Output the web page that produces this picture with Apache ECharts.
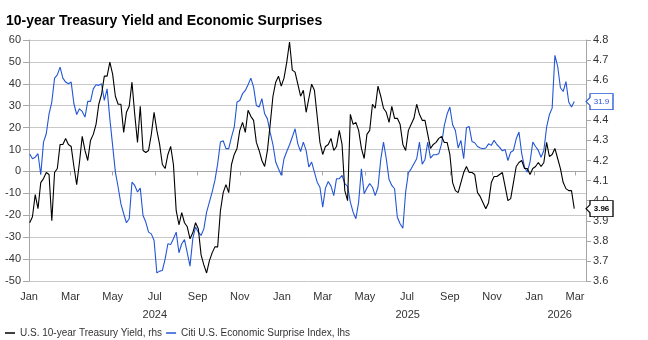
<!DOCTYPE html>
<html>
<head>
<meta charset="utf-8">
<script src="https://cdn.jsdelivr.net/npm/echarts@6/dist/echarts.min.js"></script>
<style>
  html, body { margin: 0; padding: 0; background: #fff; }
  #chart { width: 648px; height: 340px; }
</style>
</head>
<body>
<div id="chart"></div>
<script>
// Observations: one reading every 4 calendar days starting 2 Jan 2024
const FIRST_OBS = [2024, 0, 2];
const OBS_STEP_DAYS = 4;

// U.S. 10-year Treasury yield, % (right axis)
const yieldValues = [
  3.89, 3.92, 4.03, 3.96, 4.09, 4.11, 4.14, 4.13, 3.90, 4.14,
  4.16, 4.28, 4.28, 4.31, 4.28, 4.27, 4.17, 4.08, 4.19, 4.32,
  4.25, 4.20, 4.30, 4.33, 4.38, 4.48, 4.53, 4.62, 4.62, 4.69,
  4.63, 4.52, 4.48, 4.48, 4.34, 4.44, 4.47, 4.59, 4.43, 4.29,
  4.47, 4.25, 4.24, 4.25, 4.33, 4.44, 4.35, 4.28, 4.18, 4.16,
  4.23, 4.27, 4.18, 3.95, 3.88, 3.94, 3.89, 3.87, 3.81, 3.84,
  3.89, 3.86, 3.73, 3.68, 3.64, 3.70, 3.74, 3.77, 3.77, 3.95,
  4.04, 4.08, 4.04, 4.18, 4.23, 4.26, 4.35, 4.39, 4.34, 4.45,
  4.42, 4.40, 4.29, 4.25, 4.20, 4.17, 4.25, 4.38, 4.52, 4.59,
  4.62, 4.57, 4.61, 4.69, 4.79, 4.65, 4.64, 4.58, 4.52, 4.55,
  4.44, 4.51, 4.58, 4.55, 4.42, 4.29, 4.23, 4.27, 4.28, 4.31,
  4.25, 4.27, 4.35, 4.28, 4.05, 4.00, 4.43, 4.38, 4.39, 4.35,
  4.26, 4.21, 4.33, 4.35, 4.48, 4.46, 4.57, 4.52, 4.46, 4.44,
  4.39, 4.47, 4.41, 4.41, 4.38, 4.28, 4.25, 4.35, 4.38, 4.41,
  4.48, 4.43, 4.40, 4.40, 4.33, 4.26, 4.28, 4.29, 4.31, 4.32,
  4.29, 4.29, 4.23, 4.09, 4.05, 4.04, 4.09, 4.14, 4.17, 4.14,
  4.14, 4.13, 4.04, 4.02, 3.99, 3.96, 3.99, 4.09, 4.12, 4.12,
  4.13, 4.14, 4.07, 4.00, 4.01, 4.09, 4.17, 4.19, 4.20, 4.16,
  4.16, 4.13, 4.16, 4.17, 4.19, 4.17, 4.19, 4.29, 4.22, 4.23,
  4.26, 4.21, 4.16, 4.09, 4.06, 4.05, 4.05, 3.96
];

// Citi U.S. Economic Surprise Index (left axis)
const surpriseValues = [
  8.0, 5.8, 6.5, 8.1, -1.5, 13.4, 17.2, 26.3, 31.7, 42.6,
  44.1, 47.6, 42.6, 40.8, 40.0, 40.8, 30.9, 26.0, 28.6, 27.4,
  24.8, 32.0, 32.0, 37.7, 39.6, 39.3, 40.0, 32.4, 37.7, 24.0,
  11.9, -0.3, -7.2, -14.8, -19.3, -23.4, -21.6, -4.9, -6.4, -9.4,
  -7.6, -20.1, -23.1, -27.7, -28.5, -31.5, -46.3, -45.5, -45.2, -39.9,
  -33.0, -33.3, -30.7, -27.7, -37.1, -33.0, -31.1, -37.1, -43.2, -30.7,
  -25.4, -27.7, -29.2, -26.2, -18.6, -14.0, -9.4, -4.1, 3.5, 13.4,
  14.0, 10.4, 10.4, 15.7, 20.2, 31.7, 32.4, 35.5, 37.0, 39.6,
  42.6, 38.5, 30.1, 29.4, 33.2, 26.3, 24.0, 17.7, 12.2, 4.3,
  1.2, -1.8, 5.8, 9.1, 12.2, 15.7, 19.5, 12.6, 9.1, 13.4,
  9.6, 2.0, 4.3, -0.3, -4.9, -7.2, -16.3, -7.6, -4.6, -6.7,
  -11.0, -3.3, -3.3, -1.8, -5.6, -6.8, -14.0, -18.6, -21.6, -14.0,
  1.2, -10.2, -7.6, -5.5, -7.2, -11.0, -7.2, 5.5, 13.4, 5.8,
  -3.7, -6.4, -7.9, -20.9, -23.9, -25.9, -9.4, -0.6, 1.2, 3.5,
  5.8, 13.4, 3.3, 5.5, 13.4, 6.1, 7.6, 7.6, 8.1, 12.6,
  21.0, 26.2, 29.4, 21.3, 18.7, 10.7, 14.2, 5.8, 20.0, 20.5,
  13.7, 13.1, 11.4, 10.7, 10.4, 10.7, 12.6, 11.9, 14.2, 12.3,
  11.0, 9.4, 10.0, 5.0, 8.8, 9.6, 14.9, 18.0, 8.1, 2.0,
  -0.3, 4.3, 13.4, 11.4, 9.6, 6.5, 9.6, 20.2, 25.9, 28.9,
  53.0, 48.0, 38.2, 36.5, 41.0, 31.7, 29.4, 31.9
];

// Axis ranges and tick labels
const X_START = '2024-01-01';
const X_END = '2026-03-17';
const monthTickDates = [
  '2024-01-01', '2024-03-01', '2024-05-01', '2024-07-01', '2024-09-01', '2024-11-01',
  '2025-01-01', '2025-03-01', '2025-05-01', '2025-07-01', '2025-09-01', '2025-11-01',
  '2026-01-01', '2026-03-01'
];
const monthTickLabels = ['Jan', 'Mar', 'May', 'Jul', 'Sep', 'Nov',
  'Jan', 'Mar', 'May', 'Jul', 'Sep', 'Nov', 'Jan', 'Mar'];
const yearLabelDates = ['2024-07-01', '2025-07-02', '2026-02-07'];
const yearLabels = ['2024', '2025', '2026'];

const YIELD_NAME = 'U.S. 10-year Treasury Yield, rhs';
const SURPRISE_NAME = 'Citi U.S. Economic Surprise Index, lhs';
const BLUE = '#2356d6';
const BLACK = '#000000';
const AXIS_GREY = '#a6a6a6';
const TEXT = '#333333';
const FONT = '"Liberation Sans", Arial, sans-serif';

function toTime(s) {
  const [y, m, d] = s.split('-').map(Number);
  return new Date(y, m - 1, d).getTime();
}
const obsTimes = yieldValues.map((_, i) =>
  new Date(FIRST_OBS[0], FIRST_OBS[1], FIRST_OBS[2] + i * OBS_STEP_DAYS).getTime());
const xMin = toTime(X_START);
const xMax = toTime(X_END);
const monthTickTimes = monthTickDates.map(toTime);
const yearLabelTimes = yearLabelDates.map(toTime);

function labelFor(times, labels) {
  return v => {
    const k = times.findIndex(t => Math.abs(t - v) < 1000);
    return k >= 0 ? labels[k] : '';
  };
}

// Callout box with a pointer on its left edge
const CALLOUT = 'path://M0,8 L4,4 L4,0 L27,0 L27,16 L4,16 L4,12 Z';
function endCallout(value, text, color, bold) {
  return {
    silent: true,
    symbol: CALLOUT,
    symbolSize: [27, 16],
    symbolOffset: [13.5, 0],
    itemStyle: { color: '#ffffff', borderColor: color, borderWidth: 1 },
    label: {
      show: true, position: 'inside', offset: [2, 0],
      formatter: text, color: color, fontSize: 8,
      fontWeight: bold ? 'bold' : 'normal', fontFamily: FONT
    },
    data: [{ coord: [xMax, value] }]
  };
}

const lastSurprise = surpriseValues[surpriseValues.length - 1];
const lastYield = yieldValues[yieldValues.length - 1];

const chart = echarts.init(document.getElementById('chart'), null, { renderer: 'canvas' });
chart.setOption({
  animation: false,
  backgroundColor: '#ffffff',
  textStyle: { fontFamily: FONT },
  title: {
    text: '10-year Treasury Yield and Economic Surprises',
    left: 1, top: 9,
    textStyle: { fontSize: 14, fontWeight: 'bold', color: '#000', fontFamily: FONT }
  },
  legend: {
    data: [YIELD_NAME, SURPRISE_NAME],
    left: 0, top: 323,
    icon: 'rect', itemWidth: 10, itemHeight: 1.5, itemGap: 4,
    textStyle: { fontSize: 10, color: TEXT, fontFamily: FONT }
  },
  grid: { left: 29, right: 62, top: 40, bottom: 59 },
  xAxis: [
    {
      type: 'value', min: xMin, max: xMax, position: 'bottom',
      axisLine: { show: true, lineStyle: { color: AXIS_GREY, width: 1 } },
      axisTick: { show: true, length: 4, customValues: monthTickTimes, lineStyle: { color: AXIS_GREY } },
      axisLabel: {
        customValues: monthTickTimes, margin: 10, fontSize: 11, color: TEXT, fontFamily: FONT,
        formatter: labelFor(monthTickTimes, monthTickLabels)
      },
      splitLine: { show: false }
    },
    {
      type: 'value', min: xMin, max: xMax, position: 'bottom', offset: 18,
      axisLine: { show: false }, axisTick: { show: false },
      axisLabel: {
        customValues: yearLabelTimes, margin: 10, fontSize: 11, color: TEXT, fontFamily: FONT,
        formatter: labelFor(yearLabelTimes, yearLabels)
      },
      splitLine: { show: false }
    }
  ],
  yAxis: [
    {
      type: 'value', min: -50, max: 60, interval: 10, position: 'left',
      axisLine: { show: true, lineStyle: { color: AXIS_GREY } },
      axisTick: { show: true, length: 6, lineStyle: { color: AXIS_GREY } },
      axisLabel: { margin: 8, fontSize: 11, color: TEXT, fontFamily: FONT },
      splitLine: { show: true, lineStyle: { color: '#c8c8c8', width: 1 } }
    },
    {
      type: 'value', min: 3.6, max: 4.8, interval: 0.1, position: 'right',
      axisLine: { show: true, lineStyle: { color: AXIS_GREY } },
      axisTick: { show: true, length: 5, lineStyle: { color: AXIS_GREY } },
      axisLabel: { margin: 7, fontSize: 11, color: TEXT, fontFamily: FONT, formatter: v => v.toFixed(1) },
      splitLine: { show: false }
    }
  ],
  series: [
    {
      name: SURPRISE_NAME, type: 'line', xAxisIndex: 0, yAxisIndex: 0,
      data: obsTimes.map((t, i) => [t, surpriseValues[i]]),
      symbol: 'none', showSymbol: false,
      lineStyle: { color: BLUE, width: 1.1 }, itemStyle: { color: BLUE },
      z: 2,
      markPoint: endCallout(lastSurprise, lastSurprise.toFixed(1), BLUE, false)
    },
    {
      name: YIELD_NAME, type: 'line', xAxisIndex: 0, yAxisIndex: 1,
      data: obsTimes.map((t, i) => [t, yieldValues[i]]),
      symbol: 'none', showSymbol: false,
      lineStyle: { color: BLACK, width: 1.1 }, itemStyle: { color: BLACK },
      z: 3,
      markPoint: endCallout(lastYield, lastYield.toFixed(2), BLACK, true)
    }
  ]
});
</script>
</body>
</html>
